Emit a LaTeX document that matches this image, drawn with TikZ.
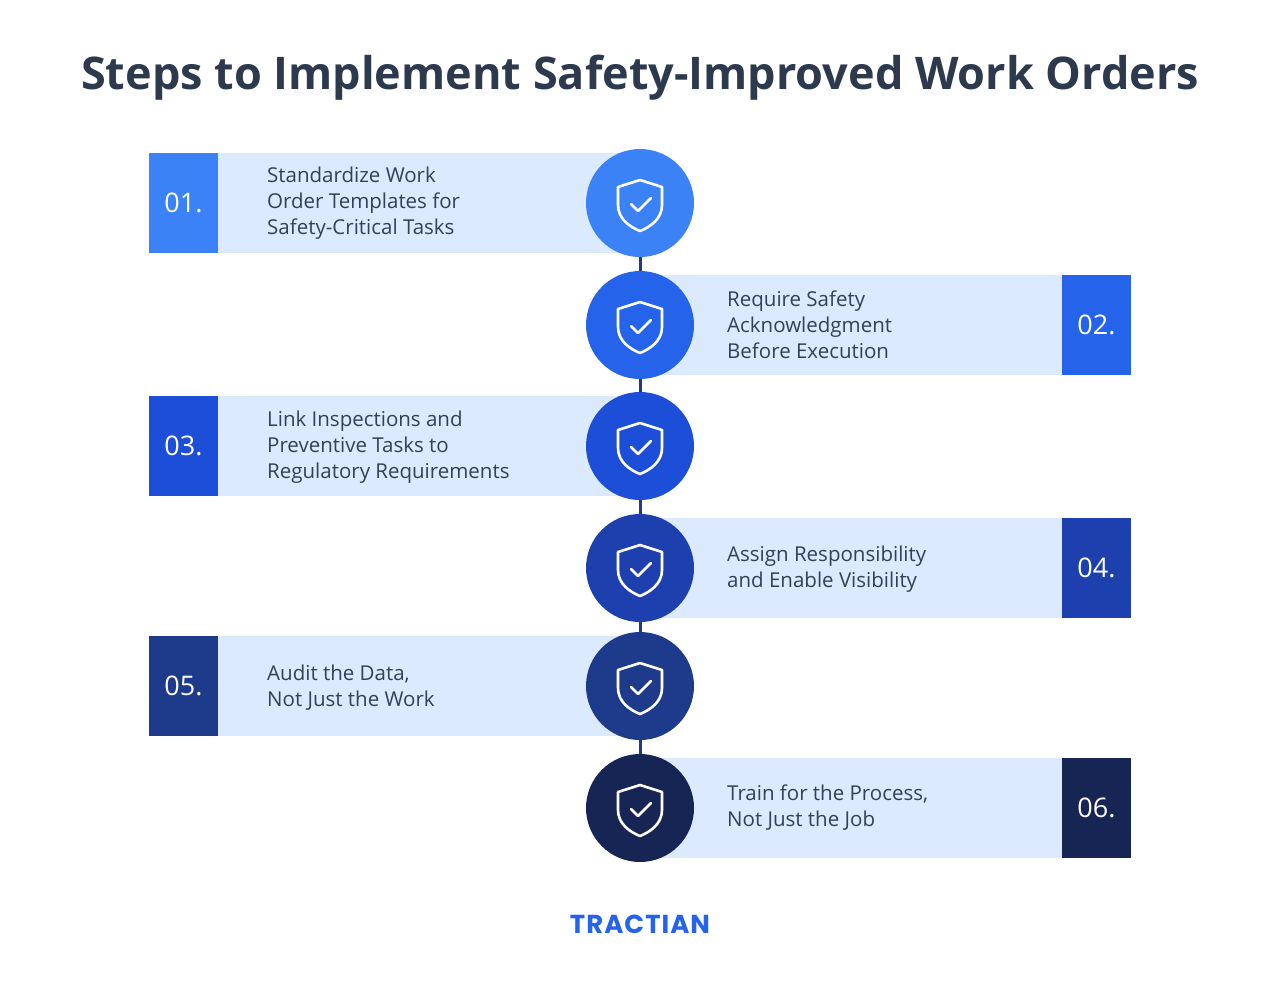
\documentclass[tikz,border=0pt]{standalone}
\usepackage{fontspec}
\setmainfont{Open Sans}
\newfontfamily\titlefont{Open Sans}
\newfontfamily\logofont{Poppins}
\definecolor{barc}{HTML}{DBEAFE}
\definecolor{txt}{HTML}{334155}
\definecolor{ttl}{HTML}{2D3A4E}
\definecolor{cA}{HTML}{3B82F6}
\definecolor{cB}{HTML}{2563EB}
\definecolor{cC}{HTML}{1D4ED8}
\definecolor{cD}{HTML}{1E40AF}
\definecolor{cE}{HTML}{1E3A8A}
\definecolor{cF}{HTML}{172554}
\tikzset{
  bar/.style={fill=barc, draw=none, minimum width=422pt, minimum height=100pt, inner sep=0pt},
  numbox/.style={fill=#1, draw=none, minimum width=69pt, minimum height=100pt, inner sep=0pt, text=white, font=\fontsize{27}{30}\selectfont},
  circ/.style={circle, fill=#1, draw=none, minimum size=108pt, inner sep=0pt},
  label/.style={text=txt, font=\fontsize{20.5}{26}\selectfont, align=left, inner sep=0pt},
  link/.style={draw=cE, line width=3pt},
}
\newcommand{\shieldicon}[1]{%
  \draw[white, line width=2.6pt, line join=round, line cap=round, shift={(#1)}]
    (-22,-16) -- (0,-23) -- (22,-16) -- (22,2) .. controls (22,16) and (10,24) .. (0,28)
    .. controls (-10,24) and (-22,16) .. (-22,2) -- cycle;
  \draw[white, line width=2.6pt, line join=round, line cap=round, shift={(#1)}]
    (-9,1) -- (-2,8) -- (11,-5);
}
\begin{document}
\begin{tikzpicture}[x=1pt,y=-1pt]
\useasboundingbox (0,0) rectangle (1280,986);
\node[text=ttl, font=\titlefont\bfseries\fontsize{45}{54}\selectfont] (title) at (640,78) {Steps to Implement Safety-Improved Work Orders};

\coordinate (top) at (640,203);
\coordinate (bot) at (640,806);
\draw[link] (top) -- (bot);

\foreach \y/\c/\n/\side [count=\i] in {203/cA/01./L,325/cB/02./R,446/cC/03./L,568/cD/04./R,686/cE/05./L,808/cF/06./R}{
  \if L\side
    \node[bar] (bar\i) at (429,\y) {};
    \node[numbox=\c] (num\i) at (183.5,\y) {\n};
  \else
    \node[bar] (bar\i) at (851,\y) {};
    \node[numbox=\c] (num\i) at (1096.5,\y) {\n};
  \fi
  \node[circ=\c] (c\i) at (640,\y) {};
  \shieldicon{640,\y}
}
\node[label, anchor=west] (t1) at (267,203) {Standardize Work\\Order Templates for\\Safety-Critical Tasks};
\node[label, anchor=west] (t2) at (727,325) {Require Safety\\Acknowledgment\\Before Execution};
\node[label, anchor=west] (t3) at (267,447) {Link Inspections and\\Preventive Tasks to\\Regulatory Requirements};
\node[label, anchor=west] (t4) at (727,569) {Assign Responsibility\\and Enable Visibility};
\node[label, anchor=west] (t5) at (267,688) {Audit the Data,\\Not Just the Work};
\node[label, anchor=west] (t6) at (727,808) {Train for the Process,\\Not Just the Job};

\node[text=cB, font=\logofont\bfseries\fontsize{26}{28}\selectfont] (logo) at (640,924) {T\kern1pt R\kern1pt A\kern1pt C\kern1pt T\kern1pt I\kern1pt A\kern1pt N};
\end{tikzpicture}
\end{document}
